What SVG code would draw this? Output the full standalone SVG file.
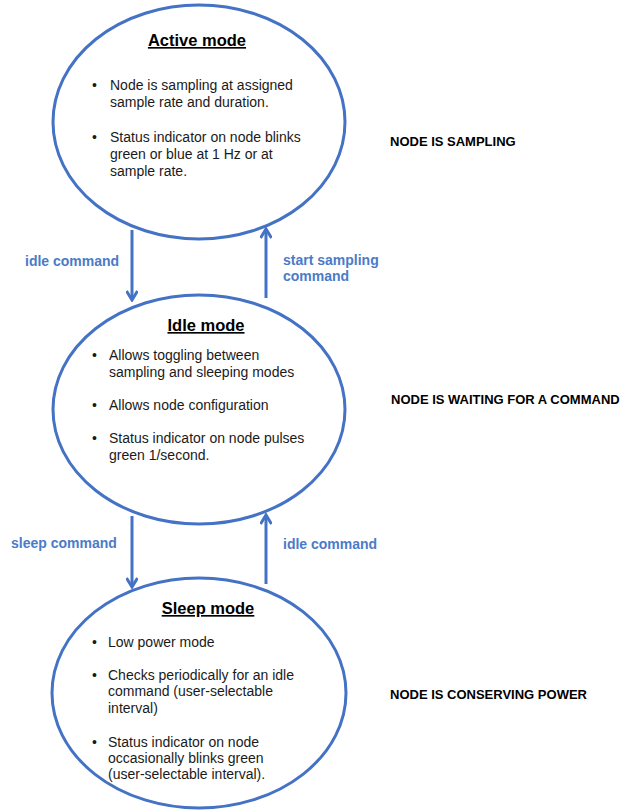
<svg xmlns="http://www.w3.org/2000/svg" width="624" height="812" viewBox="0 0 624 812">
<style>
.node{fill:#fff;stroke:#4472C4;stroke-width:3}
.title{font-family:"Liberation Sans",Arial,sans-serif;font-size:16.5px;font-weight:bold;fill:#000;text-decoration:underline;text-anchor:middle}
.body{font-family:"Liberation Sans",Arial,sans-serif;font-size:14px;fill:#1a1a1a}
.lbl{font-family:"Liberation Sans",Arial,sans-serif;font-size:14px;font-weight:bold;fill:#4A7BC8}
.state{font-family:"Liberation Sans",Arial,sans-serif;font-size:13px;font-weight:bold;fill:#000}
.edge{stroke:#4472C4;stroke-width:3;fill:none;marker-end:url(#ah)}
</style>
<defs>
<marker id="ah" markerWidth="12" markerHeight="12" viewBox="0 0 12 12" refX="10" refY="6" orient="auto" markerUnits="userSpaceOnUse">
<path d="M1,0.5 L10,6 L1,11.5" fill="none" stroke="#4472C4" stroke-width="3"/>
</marker>
</defs>
<rect width="624" height="812" fill="#fff"/>
<g id="active">
<ellipse class="node" cx="199" cy="122" rx="146" ry="117"/>
<text class="title" x="197" y="46">Active mode</text>
<text class="body" x="92" y="90">•</text>
<text class="body" x="110" y="90">Node is sampling at assigned</text>
<text class="body" x="110" y="107">sample rate and duration.</text>
<text class="body" x="92" y="142">•</text>
<text class="body" x="110" y="142">Status indicator on node blinks</text>
<text class="body" x="110" y="159">green or blue at 1 Hz or at</text>
<text class="body" x="110" y="176">sample rate.</text>
</g>
<g id="idle">
<ellipse class="node" cx="199" cy="409.5" rx="146" ry="114.5"/>
<text class="title" x="206" y="331">Idle mode</text>
<text class="body" x="92" y="360">•</text>
<text class="body" x="109" y="360">Allows toggling between</text>
<text class="body" x="109" y="377">sampling and sleeping modes</text>
<text class="body" x="92" y="410">•</text>
<text class="body" x="109" y="410">Allows node configuration</text>
<text class="body" x="92" y="443">•</text>
<text class="body" x="109" y="443">Status indicator on node pulses</text>
<text class="body" x="109" y="460">green 1/second.</text>
</g>
<g id="sleep">
<ellipse class="node" cx="199" cy="693" rx="147" ry="115"/>
<text class="title" x="208" y="614">Sleep mode</text>
<text class="body" x="92" y="647">•</text>
<text class="body" x="108" y="647">Low power mode</text>
<text class="body" x="92" y="680">•</text>
<text class="body" x="108" y="680">Checks periodically for an idle</text>
<text class="body" x="108" y="696">command (user-selectable</text>
<text class="body" x="108" y="713">interval)</text>
<text class="body" x="92" y="747">•</text>
<text class="body" x="108" y="747">Status indicator on node</text>
<text class="body" x="108" y="763">occasionally blinks green</text>
<text class="body" x="108" y="779">(user-selectable interval).</text>
</g>
<g id="connectors">
<line class="edge" x1="132" y1="230" x2="132" y2="300"/>
<line class="edge" x1="266" y1="298" x2="266" y2="229"/>
<line class="edge" x1="132" y1="516" x2="132" y2="587"/>
<line class="edge" x1="266" y1="584" x2="266" y2="515"/>
<text class="lbl" x="25" y="266">idle command</text>
<text class="lbl" x="283" y="265">start sampling</text>
<text class="lbl" x="283" y="281">command</text>
<text class="lbl" x="11" y="548">sleep command</text>
<text class="lbl" x="283" y="549">idle command</text>
</g>
<g id="states">
<text class="state" x="390" y="146">NODE IS SAMPLING</text>
<text class="state" x="391" y="404">NODE IS WAITING FOR A COMMAND</text>
<text class="state" x="390" y="699">NODE IS CONSERVING POWER</text>
</g>
</svg>
